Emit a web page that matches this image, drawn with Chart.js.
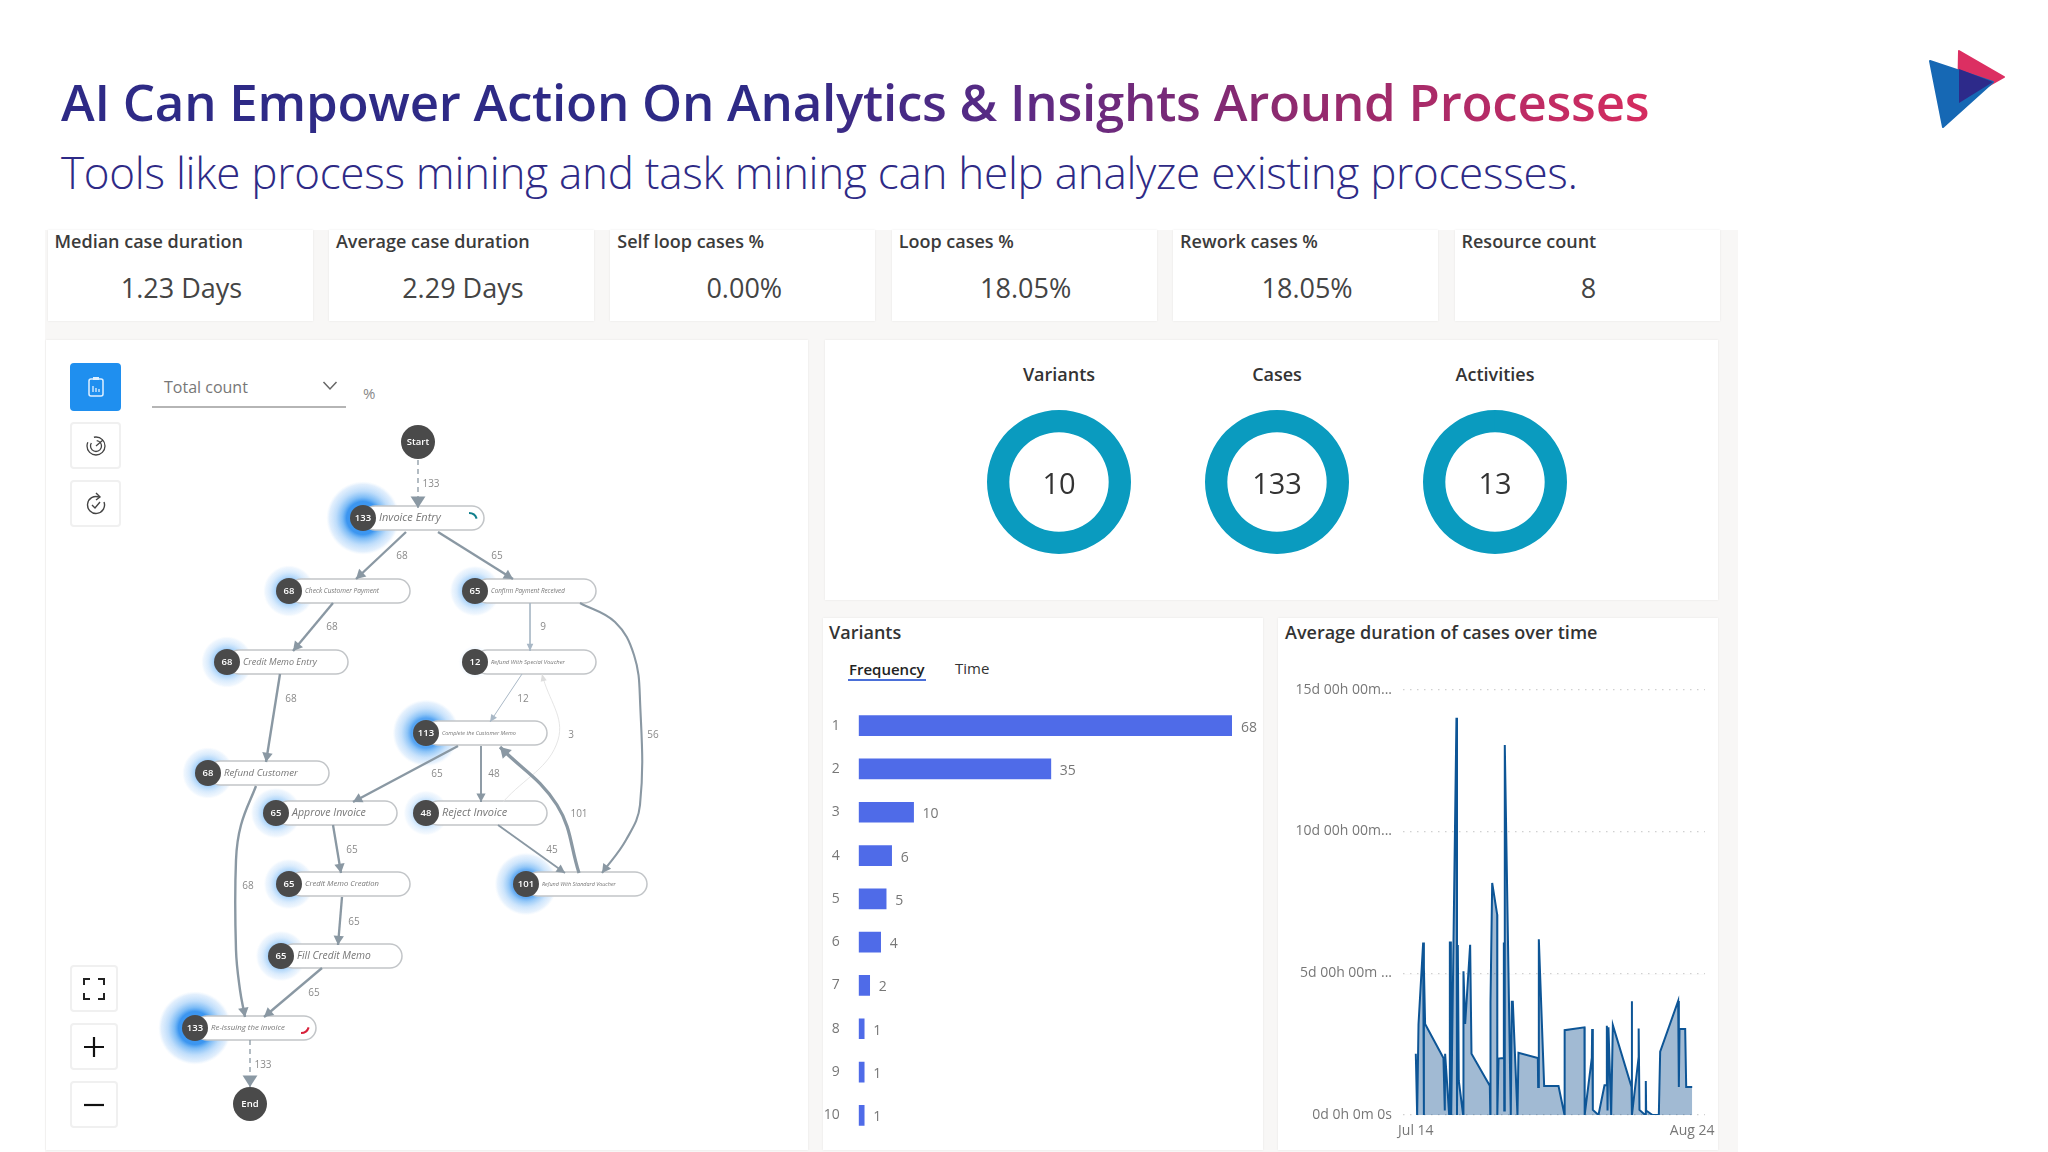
<!DOCTYPE html>
<html>
<head>
<meta charset="utf-8">
<title>Process analytics</title>
<script src="https://cdn.jsdelivr.net/npm/chart.js@4"></script>
<style>
html, body { margin: 0; padding: 0; background: #fff; }
body { width: 2048px; height: 1152px; position: relative; overflow: hidden; font-family: "Open Sans", sans-serif; color: #333; }
.abs { position: absolute; white-space: nowrap; }
canvas { position: absolute; }
#title { left: 61px; top: 66px; font-size: 51px; line-height: 70px; font-weight: 600; letter-spacing: -0.25px;
  background: linear-gradient(90deg, #2e2a86 0%, #2e2a86 45%, #5b2a84 60%, #8a2a70 76%, #d52c5f 100%);
  -webkit-background-clip: text; background-clip: text; color: transparent; }
#subtitle { left: 61px; top: 142px; font-size: 44px; line-height: 60px; font-weight: 300; color: #2e2a86; letter-spacing: -0.27px; }
#backdrop { left: 45px; top: 230px; width: 1693px; height: 922px; background: #f8f7f6; }
.card { position: absolute; background: #fff; box-shadow: 0 0 2px rgba(0,0,0,.08); }
.kpiName { font-size: 18px; font-weight: 600; color: #3b3b3b; transform: translateY(-50%); }
.kpiValue { font-size: 27px; color: #444; transform: translate(-50%, -50%); }
.head { font-size: 18px; font-weight: 600; color: #333; transform: translateY(-50%); }
.ringName { font-size: 18px; font-weight: 600; color: #333; transform: translate(-50%, -50%); }
.btn { position: absolute; background: #fff; border: 2px solid #f0f0f0; border-radius: 4px; box-sizing: border-box; display: flex; align-items: center; justify-content: center; }
</style>
</head>
<body>
<div id="backdrop" class="abs"></div>
<div id="title" class="abs">AI Can Empower Action On Analytics &amp; Insights Around Processes</div>
<div id="subtitle" class="abs">Tools like process mining and task mining can help analyze existing processes.</div>

<svg class="abs" style="left:1920px;top:40px" width="100" height="100" viewBox="1920 40 100 100">
  <polygon points="1959,51 2004,77 1958,103" fill="#dc2f62" stroke="#dc2f62" stroke-width="2" stroke-linejoin="round"/>
  <polygon points="1930,61 1993,82 1943,127" fill="#1668b4" stroke="#1668b4" stroke-width="2" stroke-linejoin="round"/>
  <polygon points="1959,69 1993,82 1959,103" fill="#2d2a8a"/>
</svg>

<div class="card" style="left:46px;top:340px;width:762px;height:810px"></div>
<div class="card" style="left:825px;top:340px;width:893px;height:260px"></div>
<div class="card" style="left:823px;top:618px;width:440px;height:532px"></div>
<div class="card" style="left:1278px;top:618px;width:440px;height:532px"></div>

<div id="kpis"></div>

<div class="abs head" style="left:829px;top:632px">Variants</div>
<div class="abs" style="left:849px;top:669px;font-size:15px;font-weight:600;color:#222;transform:translateY(-50%)">Frequency</div>
<div class="abs" style="left:848px;top:679px;width:78px;height:2px;background:#4a6fd8"></div>
<div class="abs" style="left:955px;top:668px;font-size:15px;color:#333;transform:translateY(-50%)">Time</div>
<div class="abs head" style="left:1285px;top:632px">Average duration of cases over time</div>

<div class="abs" style="left:164px;top:387px;font-size:16px;color:#777;transform:translateY(-50%)">Total count</div>
<div class="abs" style="left:152px;top:406px;width:194px;height:2px;background:#b5b5b5"></div>
<svg class="abs" style="left:322px;top:380px" width="16" height="12"><path d="M1.5 2 L8 9 L14.5 2" fill="none" stroke="#666" stroke-width="1.5"/></svg>
<div class="abs" style="left:363px;top:393px;font-size:15px;color:#888;transform:translateY(-50%)">%</div>

<div class="btn" style="left:70px;top:363px;width:51px;height:48px;background:#1f8fef;border-color:#1f8fef">
  <svg width="18" height="22"><rect x="2" y="3" width="14" height="17" rx="2" fill="none" stroke="#dff0ff" stroke-width="1.5"/><rect x="6" y="1" width="6" height="3" fill="#dff0ff"/><path d="M6 16V10M9 16V12M12 16V13" stroke="#dff0ff" stroke-width="1.3"/></svg>
</div>
<div class="btn" style="left:70px;top:422px;width:51px;height:47px">
  <svg width="22" height="22"><circle cx="11" cy="11" r="9" fill="none" stroke="#444" stroke-width="1.3" stroke-dasharray="32 8"/><circle cx="11" cy="11" r="5.5" fill="none" stroke="#444" stroke-width="1.3" stroke-dasharray="20 6"/><path d="M11 11 L18 5" stroke="#444" stroke-width="1.3"/></svg>
</div>
<div class="btn" style="left:70px;top:480px;width:51px;height:47px">
  <svg width="22" height="24"><path d="M14 5 A8.5 8.5 0 1 0 19 10" fill="none" stroke="#444" stroke-width="1.4"/><path d="M11 1 L15 5 L11 8" fill="none" stroke="#444" stroke-width="1.4"/><path d="M7 13 L10 16 L15 10" fill="none" stroke="#444" stroke-width="1.4"/></svg>
</div>
<div class="btn" style="left:70px;top:965px;width:48px;height:47px">
  <svg width="22" height="22"><path d="M1 7V1H7M15 1H21V7M21 15V21H15M7 21H1V15" fill="none" stroke="#222" stroke-width="2"/></svg>
</div>
<div class="btn" style="left:70px;top:1023px;width:48px;height:47px">
  <svg width="22" height="22"><path d="M11 1V21M1 11H21" stroke="#111" stroke-width="2.2"/></svg>
</div>
<div class="btn" style="left:70px;top:1081px;width:48px;height:47px">
  <svg width="22" height="22"><path d="M1 11H21" stroke="#111" stroke-width="2.2"/></svg>
</div>

<canvas id="mapChart" style="left:46px;top:340px"></canvas>
<canvas id="variantBars" style="left:823px;top:704px"></canvas>
<canvas id="durationLine" style="left:1278px;top:670px"></canvas>

<script>
// KPI row
const kpiNames = ['Median case duration', 'Average case duration', 'Self loop cases %', 'Loop cases %', 'Rework cases %', 'Resource count'];
const kpiValues = ['1.23 Days', '2.29 Days', '0.00%', '18.05%', '18.05%', '8'];

// Rings
const ringNames = ['Variants', 'Cases', 'Activities'];
const ringValues = [10, 133, 13];

// Variants bars
const variantRanks = ['1', '2', '3', '4', '5', '6', '7', '8', '9', '10'];
const variantFrequency = [68, 35, 10, 6, 5, 4, 2, 1, 1, 1];

// Average duration, days since Jul 14 / duration in days
const caseDay = [0, 0.2, 0.4, 1.09, 1.19, 1.21, 1.38, 4.1, 4.3, 4.35, 4.95, 5.05, 5.2, 5.25, 6.03, 6.11, 6.23, 6.38,
  7.02, 7.07, 7.32, 8.06, 8.26, 10.98, 11.05, 11.08, 11.33, 12.07, 12.09, 12.27, 12.96, 13.06, 13.12, 13.2, 14.09,
  14.24, 14.39, 15.08, 15.23, 18.1, 18.15, 18.25, 19.04, 21.17, 22.06, 22.08, 25.02, 25.05, 26.11, 26.16, 26.26,
  27.1, 27.99, 28.24, 28.34, 28.44, 28.58, 28.98, 29.23, 32, 32.05, 32.07, 33.04, 33.06, 33.18, 34.03, 34.12, 34.17,
  35.11, 36.05, 36.25, 38.92, 39.02, 39.12, 39.96, 40.11, 41];
const avgDuration = [2.16, 0, 3.2, 6.08, 0, 5.19, 3.21, 2.01, 0.16, 2.16, 0, 6.08, 6.08, 0, 14.01, 0, 5.99, 1.2,
  0, 5.07, 3.21, 6, 2.16, 1.03, 0, 3.99, 8.18, 7.07, 0, 1.99, 2.01, 6.08, 0.16, 13.05, 0,
  3.99, 3.99, 0, 2.19, 2.01, 0.99, 6.2, 1.02, 1.02, 0, 2.99, 3.09, 0, 2.01, 3.03, 0.18,
  0, 1.05, 1.05, 3.15, 0.16, 3.09, 0, 3.17, 0.99, 4.01, 0, 2.01, 3.05, 0.18, 0, 1.2, 0.16,
  0, 0, 2.23, 4.02, 0.99, 3.03, 3.03, 0.99, 0.99];
const xTickValues = [0, 41];
const xTickLabels = ['Jul 14', 'Aug 24'];
const yTickLabels = ['0d 0h 0m 0s', '5d 00h 00m ...', '10d 00h 00m...', '15d 00h 00m...'];

// Process map, in the map's own coordinates
const nodeLabels = ['Start', 'Invoice Entry', 'Check Customer Payment', 'Confirm Payment Received', 'Credit Memo Entry',
  'Refund With Special Voucher', 'Complete the Customer Memo', 'Refund Customer', 'Approve Invoice', 'Reject Invoice',
  'Credit Memo Creation', 'Refund With Standard Voucher', 'Fill Credit Memo', 'Re-issuing the invoice', 'End'];
const nodeCounts = [null, 133, 68, 65, 68, 12, 113, 68, 65, 48, 65, 101, 65, 133, null];
const nodeX = [418, 363, 289, 475, 227, 475, 426, 208, 276, 426, 289, 526, 281, 195, 250];
const nodeY = [442, 518, 591, 591, 662, 662, 733, 773, 813, 813, 884, 884, 956, 1028, 1104];

const edgeCounts = [133, 68, 65, 68, 9, 68, 12, 56, 65, 48, 101, 45, 65, 65, 65, 68, 133, 3];
const edgePaths = [
  [[418, 460], [418, 508]],
  [[406, 532], [356, 579]],
  [[438, 532], [513, 579]],
  [[333, 603], [293, 651]],
  [[530, 603], [530, 651]],
  [[280, 674], [266, 762]],
  [[522, 674], [490, 722]],
  [[580, 603], [615, 622], [634, 655], [640, 700], [640, 805], [626, 840], [602, 873]],
  [[458, 746], [353, 802]],
  [[481, 746], [481, 802]],
  [[579, 873], [557, 805], [500, 747]],
  [[498, 825], [565, 873]],
  [[333, 825], [341, 873]],
  [[342, 897], [338, 945]],
  [[322, 968], [264, 1017]],
  [[256, 786], [241, 825], [236, 860], [236, 950], [240, 990], [245, 1017]],
  [[250, 1040], [250, 1087]],
  [[503, 802], [558, 740], [542, 674]]
];
const edgeLabelX = [431, 402, 497, 332, 543, 291, 523, 653, 437, 494, 579, 552, 352, 354, 314, 248, 263, 571];
const edgeLabelY = [484, 556, 556, 627, 627, 699, 699, 735, 774, 774, 814, 850, 850, 922, 993, 886, 1065, 735];
const dashedEdges = [0, 16];

const FONT = '"Open Sans", sans-serif';

// KPI cards and ring titles
const kpiBox = document.getElementById('kpis');
kpiNames.forEach((name, i) => {
    const left = 47.5 + i * 281.4;
    kpiBox.insertAdjacentHTML('beforeend',
        `<div class="card" style="left:${left}px;top:230px;width:265px;height:91px"></div>` +
        `<div class="abs kpiName" style="left:${left + 7}px;top:241px">${name}</div>` +
        `<div class="abs kpiValue" style="left:${left + 134}px;top:287px">${kpiValues[i]}</div>`);
});

ringNames.forEach((name, i) => {
    const cx = 1059 + i * 218;
    kpiBox.insertAdjacentHTML('beforeend',
        `<div class="abs ringName" style="left:${cx}px;top:374px">${name}</div>` +
        `<canvas id="ring${i}" style="left:${cx - 80}px;top:402px"></canvas>`);
    const canvas = document.getElementById('ring' + i);
    canvas.width = 160;
    canvas.height = 160;
    new Chart(canvas, {
        type: 'doughnut',
        data: { labels: [name], datasets: [{ data: [ringValues[i]], backgroundColor: ['#0a9bbf'], borderWidth: 0 }] },
        options: {
            responsive: false,
            animation: false,
            cutout: '69%',
            layout: { padding: 8 },
            plugins: { legend: { display: false }, tooltip: { enabled: false } }
        },
        plugins: [{
            id: 'centerValue',
            afterDraw(chart) {
                const c = chart.ctx;
                c.save();
                c.font = '29px ' + FONT;
                c.fillStyle = '#333';
                c.textAlign = 'center';
                c.textBaseline = 'middle';
                c.fillText(String(ringValues[i]), 80, 84);
                c.restore();
            }
        }]
    });
});

// Variants
const barCanvas = document.getElementById('variantBars');
barCanvas.width = 440;
barCanvas.height = 433;
new Chart(barCanvas, {
    type: 'bar',
    data: {
        labels: variantRanks,
        datasets: [{ data: variantFrequency, backgroundColor: '#4f6be8', barThickness: 20 }]
    },
    options: {
        indexAxis: 'y',
        responsive: false,
        animation: false,
        layout: { autoPadding: false, padding: { right: 31 } },
        scales: {
            x: { display: false, min: 0, max: 68 },
            y: {
                afterFit(scale) {
                    scale.width = 35.7;
                    scale.paddingTop = 0;
                    scale.paddingBottom = 0;
                },
                grid: { display: false },
                border: { display: false },
                ticks: { color: '#777', padding: 11, font: { family: FONT, size: 14 } }
            }
        },
        plugins: { legend: { display: false }, tooltip: { enabled: false } }
    },
    plugins: [{
        id: 'barValues',
        afterDatasetsDraw(chart) {
            const c = chart.ctx;
            const meta = chart.getDatasetMeta(0);
            c.save();
            c.font = '14px ' + FONT;
            c.fillStyle = '#777';
            c.textBaseline = 'middle';
            meta.data.forEach((bar, i) => c.fillText(String(variantFrequency[i]), bar.x + 9, bar.y + 2));
            c.restore();
        }
    }]
});

// Average duration of cases over time
const lineCanvas = document.getElementById('durationLine');
lineCanvas.width = 440;
lineCanvas.height = 479;
new Chart(lineCanvas, {
    type: 'line',
    data: {
        datasets: [{
            data: caseDay.map((d, i) => ({ x: d, y: avgDuration[i] })),
            borderColor: '#0d5596',
            borderWidth: 2,
            backgroundColor: 'rgba(30,90,150,0.42)',
            fill: 'origin',
            pointRadius: 0,
            tension: 0
        }]
    },
    options: {
        responsive: false,
        animation: false,
        layout: { autoPadding: false, padding: { top: 19.6, right: 13 } },
        scales: {
            x: {
                type: 'linear',
                min: -1.9,
                max: 42.9,
                afterBuildTicks(scale) { scale.ticks = xTickValues.map(v => ({ value: v })); },
                afterFit(scale) { scale.height = 34; },
                grid: { display: false },
                border: { display: false },
                ticks: {
                    autoSkip: false,
                    maxRotation: 0,
                    color: '#777',
                    padding: 0,
                    font: { family: FONT, size: 14 },
                    callback(value) { return xTickLabels[xTickValues.indexOf(value)]; }
                }
            },
            y: {
                min: 0,
                max: 15,
                afterFit(scale) { scale.width = 125; },
                border: { display: false },
                grid: { color: '#d0d0d0', drawTicks: false, lineWidth: 1.2 },
                ticks: {
                    stepSize: 5,
                    color: '#777',
                    padding: 11,
                    font: { family: FONT, size: 14 },
                    callback(value) { return yTickLabels[value / 5]; }
                }
            }
        },
        plugins: { legend: { display: false }, tooltip: { enabled: false } }
    },
    plugins: [{
        id: 'dottedGrid',
        beforeDatasetsDraw(chart) {
            const c = chart.ctx;
            const y = chart.scales.y;
            const area = chart.chartArea;
            c.save();
            c.fillStyle = '#fff';
            [5, 10, 15, 0].forEach(v => {
                const py = y.getPixelForValue(v);
                for (let px = area.left; px < area.right; px += 7) c.fillRect(px + 1.5, py - 1.5, 5.5, 3);
            });
            c.restore();
        }
    }]
});

// Process map
const edgeWidth = n => 0.7 + n / 40;
const edgeColor = n => (n < 5 ? '#dddddd' : n < 15 ? '#a9b8c6' : '#8a98a3');

function haloGradient(c, x, y, r, count) {
    const a = 0.15 + 0.85 * count / 133;
    const g = c.createRadialGradient(x, y, 0, x, y, r);
    g.addColorStop(0, `rgba(60,150,240,${a})`);
    g.addColorStop(0.45, `rgba(60,150,240,${a})`);
    g.addColorStop(0.56, `rgba(110,180,245,${a * 0.9})`);
    g.addColorStop(0.74, `rgba(175,213,250,${a * 0.8})`);
    g.addColorStop(0.92, `rgba(215,233,252,${a * 0.7})`);
    g.addColorStop(1, 'rgba(235,245,254,0.1)');
    return g;
}

const mapCanvas = document.getElementById('mapChart');
mapCanvas.width = 762;
mapCanvas.height = 810;
const edgeDatasets = edgePaths.map((path, i) => ({
    type: 'line',
    data: path.map(p => ({ x: p[0], y: p[1] })),
    borderColor: edgeColor(edgeCounts[i]),
    borderWidth: dashedEdges.includes(i) ? 1.3 : edgeWidth(edgeCounts[i]),
    borderDash: dashedEdges.includes(i) ? [5, 4] : [],
    pointRadius: 0,
    tension: path.length > 2 ? 0.4 : 0,
    order: 2
}));
const nodeDataset = {
    type: 'scatter',
    data: nodeX.map((x, i) => ({ x: x, y: nodeY[i] })),
    backgroundColor: '#4a4a4a',
    borderWidth: 0,
    pointRadius: nodeCounts.map(n => (n === null ? 17 : 13)),
    order: 1
};
new Chart(mapCanvas, {
    type: 'scatter',
    data: { datasets: [...edgeDatasets, nodeDataset] },
    options: {
        responsive: false,
        animation: false,
        layout: { autoPadding: false },
        scales: {
            x: { display: false, min: 46, max: 808 },
            y: { display: false, min: 340, max: 1150, reverse: true }
        },
        plugins: { legend: { display: false }, tooltip: { enabled: false } }
    },
    plugins: [{
        id: 'processMap',
        beforeDatasetsDraw(chart) {
            const c = chart.ctx;
            const sx = chart.scales.x;
            const sy = chart.scales.y;
            c.save();
            nodeCounts.forEach((n, i) => {
                if (n === null) return;
                const x = sx.getPixelForValue(nodeX[i]);
                const y = sy.getPixelForValue(nodeY[i]);
                const r = 14 + n * 0.17;
                c.fillStyle = haloGradient(c, x, y, r, n);
                c.beginPath();
                c.arc(x, y, r, 0, Math.PI * 2);
                c.fill();
            });
            nodeCounts.forEach((n, i) => {
                if (n === null) return;
                const x = sx.getPixelForValue(nodeX[i]);
                const y = sy.getPixelForValue(nodeY[i]);
                c.beginPath();
                c.roundRect(x, y - 12, 121, 24, 12);
                c.fillStyle = '#fff';
                c.fill();
                c.strokeStyle = '#c2c5c8';
                c.lineWidth = 1.5;
                c.stroke();
            });
            c.restore();
        },
        afterDatasetsDraw(chart) {
            const c = chart.ctx;
            const sx = chart.scales.x;
            const sy = chart.scales.y;
            c.save();
            // arrow heads
            edgePaths.forEach((path, i) => {
                const n = edgeCounts[i];
                const a = path[path.length - 2];
                const b = path[path.length - 1];
                const tipX = sx.getPixelForValue(b[0]);
                const tipY = sy.getPixelForValue(b[1]);
                const ang = Math.atan2(tipY - sy.getPixelForValue(a[1]), tipX - sx.getPixelForValue(a[0]));
                const len = 7 + n / 30;
                const half = 3 + n / 30;
                c.save();
                c.translate(tipX, tipY);
                c.rotate(ang);
                c.beginPath();
                c.moveTo(0, 0);
                c.lineTo(-len, -half);
                c.lineTo(-len, half);
                c.closePath();
                c.fillStyle = edgeColor(n);
                c.fill();
                c.restore();
            });
            // edge counts
            c.font = '10px ' + FONT;
            c.fillStyle = '#8a8a8a';
            c.textAlign = 'center';
            c.textBaseline = 'middle';
            edgeCounts.forEach((n, i) => {
                c.fillText(String(n), sx.getPixelForValue(edgeLabelX[i]), sy.getPixelForValue(edgeLabelY[i]));
            });
            // node texts
            nodeLabels.forEach((label, i) => {
                const x = sx.getPixelForValue(nodeX[i]);
                const y = sy.getPixelForValue(nodeY[i]);
                c.fillStyle = '#fff';
                c.textAlign = 'center';
                if (nodeCounts[i] === null) {
                    c.font = '600 9.5px ' + FONT;
                    c.fillText(label, x, y);
                    return;
                }
                c.font = '600 9.5px ' + FONT;
                c.fillText(String(nodeCounts[i]), x, y);
                let size = 11;
                c.font = `italic ${size}px ${FONT}`;
                const w = c.measureText(label).width;
                if (w > 74) size = size * 74 / w;
                c.font = `italic ${size}px ${FONT}`;
                c.fillStyle = '#777';
                c.textAlign = 'left';
                c.fillText(label, x + 16, y);
            });
            // small arcs on first and last activity
            c.lineWidth = 2;
            c.strokeStyle = '#0f7f8c';
            c.beginPath();
            c.arc(sx.getPixelForValue(363) + 106, sy.getPixelForValue(518) + 3, 8, -Math.PI / 2, -0.3);
            c.stroke();
            c.strokeStyle = '#d8203a';
            c.beginPath();
            c.arc(sx.getPixelForValue(195) + 106, sy.getPixelForValue(1028) - 3, 8, 0.3, Math.PI / 2);
            c.stroke();
            c.restore();
        }
    }]
});
</script>
</body>
</html>
